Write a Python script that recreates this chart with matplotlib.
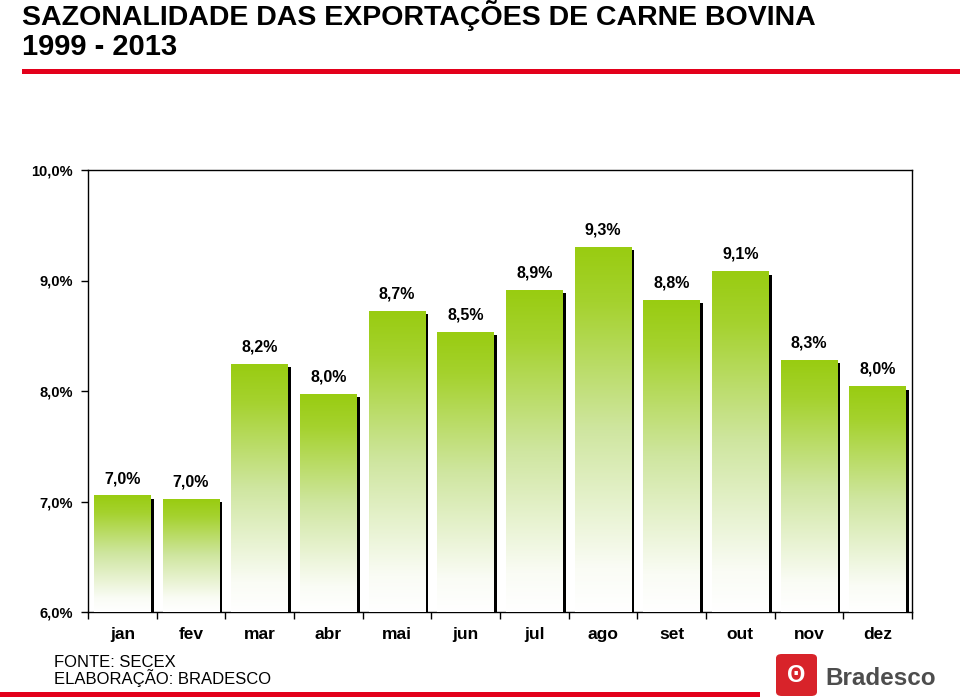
import matplotlib
matplotlib.use("Agg")
import matplotlib.pyplot as plt
import numpy as np
from matplotlib.patches import Rectangle, FancyBboxPatch
from matplotlib.colors import LinearSegmentedColormap
import matplotlib.transforms as mtransforms

plt.rcParams['font.family'] = ['Liberation Sans', 'DejaVu Sans']

months = ["jan", "fev", "mar", "abr", "mai", "jun", "jul", "ago", "set", "out", "nov", "dez"]
values = [7.05, 7.02, 8.24, 7.97, 8.72, 8.53, 8.91, 9.30, 8.82, 9.08, 8.28, 8.04]
labels = ["7,0%", "7,0%", "8,2%", "8,0%", "8,7%", "8,5%", "8,9%", "9,3%", "8,8%", "9,1%", "8,3%", "8,0%"]
yticks = [6.0, 7.0, 8.0, 9.0, 10.0]
ytick_labels = ["6,0%", "7,0%", "8,0%", "9,0%", "10,0%"]

fig = plt.figure(figsize=(9.6, 6.97), dpi=100)
ax = fig.add_axes([88/960, 1-612/697, (912-88)/960, (612-170)/697])
ymin, ymax = 6.0, 10.0
ax.set_xlim(-0.5, len(months) - 0.5)
ax.set_ylim(ymin, ymax)

cmap = LinearSegmentedColormap.from_list("g", [(0.0, "#ffffff"), (0.12, "#fafcf5"), (0.5, "#cfe6a0"), (0.85, "#a5d22e"), (1.0, "#99cc11")])
grad = np.linspace(0, 1, 256).reshape(-1, 1)
w = 0.83
shadow = mtransforms.offset_copy(ax.transData, fig=fig, x=3, y=-3, units='dots')
for i, v in enumerate(values):
    x0 = i - w / 2
    sh = Rectangle((x0, ymin), w, v - ymin, facecolor="black", edgecolor="none",
                   transform=shadow, zorder=2, clip_on=True)
    ax.add_patch(sh)
    ax.imshow(grad, extent=(x0, x0 + w, ymin, v), origin="lower", cmap=cmap,
              aspect="auto", zorder=3, interpolation="bicubic")
    ax.text(i, v + 0.09, labels[i], ha="center", va="bottom", fontsize=11.5,
            fontweight="bold", zorder=4)

ax.set_xlim(-0.5, len(months) - 0.5)
ax.set_ylim(ymin, ymax)
ax.set_yticks(yticks)
ax.set_yticklabels(ytick_labels, fontsize=10.5, fontweight="bold")
ax.set_xticks(np.arange(-0.5, len(months), 1.0))
ax.set_xticklabels([])
ax.set_xticks(np.arange(len(months)), minor=True)
ax.set_xticklabels(months, minor=True, fontsize=12.5, fontweight="bold")
ax.tick_params(axis="x", which="minor", length=0, pad=11)
ax.tick_params(axis="x", which="major", length=5, direction="out", width=1)
ax.tick_params(axis="y", length=5, direction="out", width=1, pad=6)
for s in ax.spines.values():
    s.set_linewidth(1.0)
    s.set_color("black")

# Title
fig.text(22/960, 1-25/697, "SAZONALIDADE DAS EXPORTAÇÕES DE CARNE BOVINA", fontsize=20.5,
         fontweight="bold", ha="left", va="baseline")
fig.text(22/960, 1-55/697, "1999 - 2013", fontsize=21, fontweight="bold", ha="left", va="baseline")

# red lines
fig.add_artist(Rectangle((22/960, 1-74/697), 1 - 22/960, 5/697, facecolor="#e3001b",
                         edgecolor="none", transform=fig.transFigure))
fig.add_artist(Rectangle((0, 1-697/697), 760/960, 5/697, facecolor="#e3001b",
                         edgecolor="none", transform=fig.transFigure))

# footer
fig.text(54/960, 1-667/697, "FONTE: SECEX", fontsize=12, ha="left", va="baseline")
fig.text(54/960, 1-684/697, "ELABORAÇÃO: BRADESCO", fontsize=12, ha="left", va="baseline")

# logo
fig.add_artist(FancyBboxPatch((776/960, 1-696/697), 41/960, 42/697,
                              boxstyle="round,pad=0,rounding_size=0.006",
                              facecolor="#d8232a", edgecolor="none", transform=fig.transFigure))
fig.text(796.5/960, 1-675/697, "ʘ", fontsize=17, color="white", ha="center", va="center",
         fontweight="bold")
fig.text(825/960, 1-685/697, "Bradesco", fontsize=17.5, fontweight="bold", color="#4d4d4d",
         ha="left", va="baseline")

fig.savefig("out.png", dpi=100)
